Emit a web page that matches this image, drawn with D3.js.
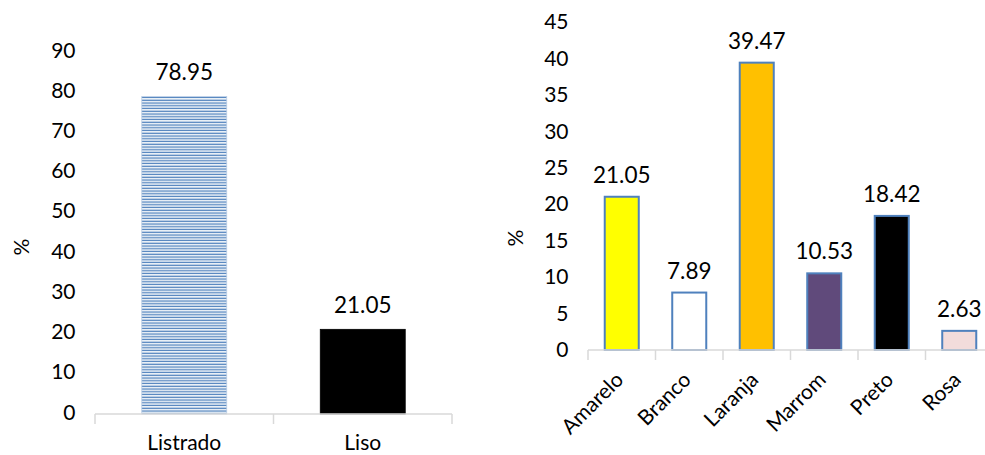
<!DOCTYPE html>
<html>
<head>
<meta charset="utf-8">
<script src="https://cdn.jsdelivr.net/npm/d3@7"></script>
<style>
  html, body { margin: 0; padding: 0; background: #fff; }
  svg { display: block; font-family: Lato, "Open Sans", sans-serif; }
</style>
</head>
<body>
<svg id="chart" width="985" height="455"></svg>
<script>
// ---- data ----
const leftCategories = ["Listrado", "Liso"];
const leftValues = [78.95, 21.05];
const leftTicks = [0, 10, 20, 30, 40, 50, 60, 70, 80, 90];

const rightCategories = ["Amarelo", "Branco", "Laranja", "Marrom", "Preto", "Rosa"];
const rightValues = [21.05, 7.89, 39.47, 10.53, 18.42, 2.63];
const rightColors = ["#ffff00", "#ffffff", "#ffc000", "#604a7b", "#000000", "#f2dcdb"];
const rightTicks = [0, 5, 10, 15, 20, 25, 30, 35, 40, 45];

const yLabel = "%";

const svg = d3.select("#chart");
const fmt = d3.format(".2f");

// stripe pattern
const defs = svg.append("defs");
const pat = defs.append("pattern")
  .attr("id", "stripes").attr("patternUnits", "userSpaceOnUse")
  .attr("width", 8).attr("height", 2.75);
pat.append("rect").attr("width", 8).attr("height", 2.75).attr("fill", "#ffffff");
pat.append("rect").attr("y", 0.6).attr("width", 8).attr("height", 1.3).attr("fill", "#4a7ebb");

function drawChart(opt) {
  const g = svg.append("g");
  const x = d3.scaleBand().domain(opt.categories).range(opt.xRange)
    .paddingInner(opt.pad).paddingOuter(opt.pad / 2);
  const y = d3.scaleLinear().domain(opt.yDomain).range(opt.yRange);

  // tick labels
  g.selectAll("text.tick").data(opt.ticks).join("text")
    .attr("class", "tick")
    .attr("x", opt.tickX)
    .attr("y", d => y(d) - opt.tickOffset)
    .attr("dominant-baseline", "central")
    .attr("text-anchor", "end")
    .attr("font-size", opt.fontSize)
    .attr("fill", "#000")
    .text(d => d);

  // y title
  g.append("text")
    .attr("transform", `translate(${opt.titleX},${opt.titleY}) rotate(-90)`)
    .attr("text-anchor", "middle")
    .attr("dominant-baseline", "central")
    .attr("font-size", opt.fontSize)
    .text(yLabel);

  // bars
  g.selectAll("rect.bar").data(opt.values).join("rect")
    .attr("class", "bar")
    .attr("x", (d, i) => x(opt.categories[i]))
    .attr("width", x.bandwidth())
    .attr("y", d => y(d))
    .attr("height", d => y(0) - y(d))
    .attr("fill", (d, i) => opt.fill(i))
    .attr("stroke", (d, i) => opt.stroke(i))
    .attr("stroke-width", opt.strokeWidth);

  // axis line and ticks at band boundaries
  const y0 = y(0);
  const [x0, x1] = opt.xRange;
  g.append("line").attr("x1", x0).attr("x2", x1).attr("y1", y0).attr("y2", y0)
    .attr("stroke", "#d9d9d9").attr("stroke-width", 1.5);
  const bounds = d3.range(opt.categories.length + 1).map(i => x0 + i * x.step());
  g.selectAll("line.tk").data(bounds).join("line")
    .attr("class", "tk")
    .attr("x1", d => d).attr("x2", d => d)
    .attr("y1", y0).attr("y2", y0 + opt.tickLen)
    .attr("stroke", "#d9d9d9").attr("stroke-width", 1.5);

  // data labels
  g.selectAll("text.val").data(opt.values).join("text")
    .attr("class", "val")
    .attr("x", (d, i) => x(opt.categories[i]) + x.bandwidth() / 2)
    .attr("y", d => y(d) - opt.valOffset)
    .attr("text-anchor", "middle")
    .attr("font-size", opt.valSize)
    .text(d => fmt(d));

  // category labels
  const cl = g.selectAll("text.cat").data(opt.categories).join("text")
    .attr("class", "cat")
    .attr("font-size", opt.fontSize);
  if (opt.rotate) {
    cl.attr("text-anchor", "end")
      .attr("transform", d => `translate(${x(d) + x.bandwidth() / 2 + opt.catDx},${opt.catY}) rotate(-45)`)
      .text(d => d);
  } else {
    cl.attr("text-anchor", "middle")
      .attr("x", d => x(d) + x.bandwidth() / 2)
      .attr("y", opt.catY)
      .text(d => d);
  }
}

drawChart({
  categories: leftCategories, values: leftValues, ticks: leftTicks,
  xRange: [95, 452], pad: 0.524,
  yDomain: [0, 90], yRange: [414, 52],
  tickX: 75.5, tickOffset: 3, fontSize: 21, valSize: 22.5,
  titleX: 20, titleY: 247,
  fill: i => i === 0 ? "url(#stripes)" : "#000000",
  stroke: i => i === 0 ? "#b9cde5" : "#000000", strokeWidth: 0.8,
  tickLen: 10, valOffset: 16, catY: 450, rotate: false
});

drawChart({
  categories: rightCategories, values: rightValues, ticks: rightTicks,
  xRange: [588, 993], pad: 0.496,
  yDomain: [0, 45], yRange: [350, 22.4],
  tickX: 568.5, tickOffset: 1.5, fontSize: 21, valSize: 22.5,
  titleX: 514, titleY: 238,
  fill: i => rightColors[i],
  stroke: i => "#4f81bd", strokeWidth: 2,
  tickLen: 10, valOffset: 14, catY: 381, catDx: 3, rotate: true
});
</script>
</body>
</html>
